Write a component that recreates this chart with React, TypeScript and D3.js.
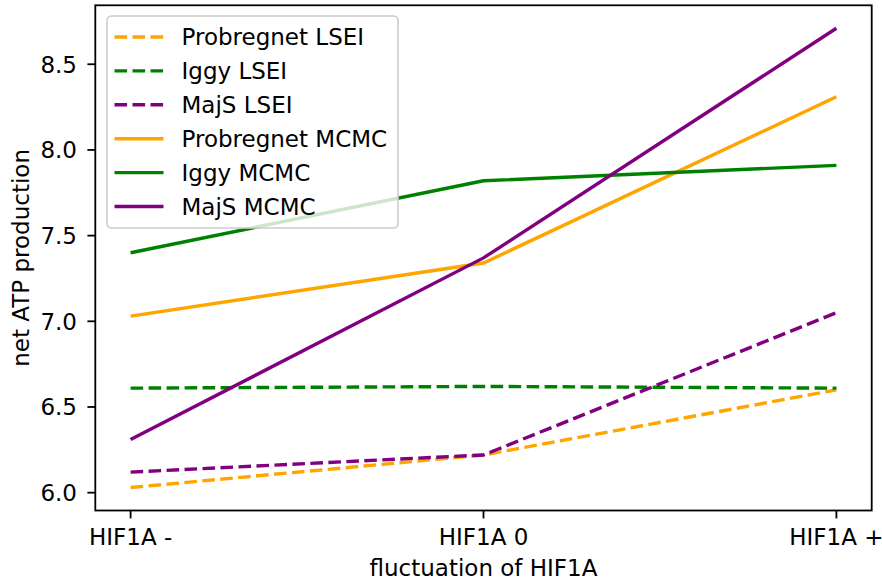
import React from "react";
import * as d3 from "d3";

const categories = ["HIF1A -", "HIF1A 0", "HIF1A +"];
const probregnetLSEI = [6.03, 6.22, 6.6];
const iggyLSEI = [6.61, 6.62, 6.61];
const majsLSEI = [6.12, 6.22, 7.05];
const probregnetMCMC = [7.03, 7.34, 8.31];
const iggyMCMC = [7.4, 7.82, 7.91];
const majsMCMC = [6.31, 7.37, 8.71];
const yTicks = [6.0, 6.5, 7.0, 7.5, 8.0, 8.5];

const seriesList = [
  { name: "Probregnet LSEI", values: probregnetLSEI, color: "orange", dashed: true },
  { name: "Iggy LSEI", values: iggyLSEI, color: "green", dashed: true },
  { name: "MajS LSEI", values: majsLSEI, color: "purple", dashed: true },
  { name: "Probregnet MCMC", values: probregnetMCMC, color: "orange", dashed: false },
  { name: "Iggy MCMC", values: iggyMCMC, color: "green", dashed: false },
  { name: "MajS MCMC", values: majsMCMC, color: "purple", dashed: false },
];

const W = 882;
const H = 583;
const L = 95.3, R = 871.7, T = 5.3, B = 510.5;
const FONT = "DejaVu Sans, sans-serif";
const FS = 23;
const LW = 3.4;
const DASH = "12.6,5.4";

export default function App() {
  const x = d3.scalePoint<string>().domain(categories).range([L, R]).padding(0.1);
  const all = seriesList.flatMap((s) => s.values);
  const mn = d3.min(all)!, mx = d3.max(all)!;
  const m = (mx - mn) * 0.05;
  const y = d3.scaleLinear().domain([mn - m, mx + m]).range([B, T]);
  const line = d3
    .line<number>()
    .x((_, i) => x(categories[i])!)
    .y((d) => y(d));

  const legX = 107, legY = 16, legW = 291, legH = 212;
  const rowY0 = 37, rowStep = 33.9;

  return (
    <svg width={W} height={H} style={{ position: "absolute", left: 0, top: 0, background: "white" }} fontFamily={FONT}>
      <rect x={0} y={0} width={W} height={H} fill="white" />
      {seriesList.map((s) => (
        <path
          key={s.name}
          d={line(s.values)!}
          fill="none"
          stroke={s.color}
          strokeWidth={LW}
          strokeDasharray={s.dashed ? DASH : undefined}
        />
      ))}
      <rect x={L} y={T} width={R - L} height={B - T} fill="none" stroke="black" strokeWidth={1.8} />
      {categories.map((c) => (
        <g key={c}>
          <line x1={x(c)!} x2={x(c)!} y1={B} y2={B + 7.9} stroke="black" strokeWidth={1.8} />
          <text x={x(c)!} y={545} textAnchor="middle" fontSize={FS} fill="black">
            {c}
          </text>
        </g>
      ))}
      {yTicks.map((t) => (
        <g key={t}>
          <line x1={L} x2={L - 7.9} y1={y(t)} y2={y(t)} stroke="black" strokeWidth={1.8} />
          <text x={77} y={y(t)} dy="0.36em" textAnchor="end" fontSize={FS} fill="black">
            {t.toFixed(1)}
          </text>
        </g>
      ))}
      <text x={(L + R) / 2} y={576} textAnchor="middle" fontSize={FS} fill="black">
        fluctuation of HIF1A
      </text>
      <text
        transform={`translate(28.5, ${(T + B) / 2}) rotate(-90)`}
        textAnchor="middle"
        fontSize={FS}
        fill="black"
      >
        net ATP production
      </text>
      <rect
        x={legX}
        y={legY}
        width={legW}
        height={legH}
        rx={4.5}
        fill="white"
        fillOpacity={0.8}
        stroke="#cccccc"
        strokeWidth={1.6}
      />
      {seriesList.map((s, i) => {
        const ry = rowY0 + i * rowStep;
        return (
          <g key={s.name}>
            <line
              x1={114.5}
              x2={163.5}
              y1={ry}
              y2={ry}
              stroke={s.color}
              strokeWidth={LW}
              strokeDasharray={s.dashed ? DASH : undefined}
            />
            <text x={181.5} y={ry} dy="0.36em" fontSize={FS} fill="black">
              {s.name}
            </text>
          </g>
        );
      })}
    </svg>
  );
}
